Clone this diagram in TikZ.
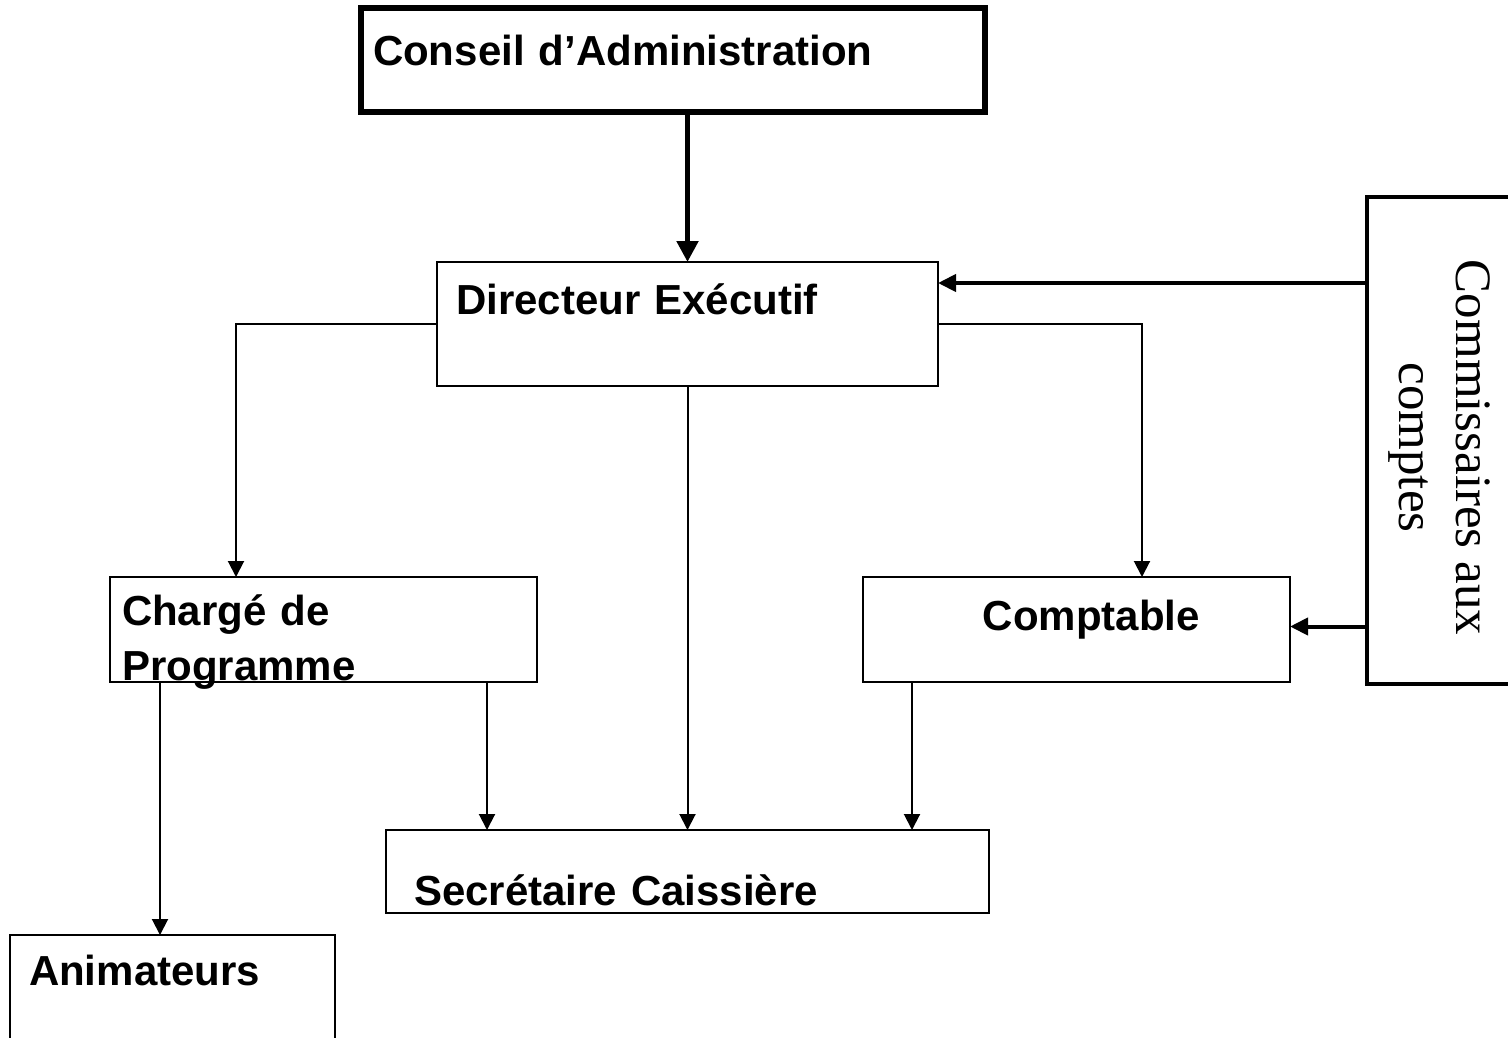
\documentclass[tikz,border=0pt]{standalone}
\usepackage{fontspec}
\usepackage{tikz}
\usetikzlibrary{calc}
\usetikzlibrary{arrows.meta}
\usetikzlibrary{positioning}
\newfontfamily\orgfont{Liberation Sans}
\newfontfamily\audfont{Liberation Serif}
\tikzset{>={Triangle[width=16pt,length=16pt]}}
\tikzset{box/.style={rectangle, draw=black, line width=2pt, anchor=north west, outer sep=0pt, inner ysep=0pt, align=left, font=\orgfont\bfseries\fontsize{42}{55}\selectfont}}
\tikzset{conn/.style={->, draw=black, line width=2pt}}
\tikzset{heavy/.style={->, draw=black, line width=5pt, >={Triangle[width=21pt,length=21pt]}}}
\tikzset{audarr/.style={->, draw=black, line width=4pt, >={Triangle[width=17pt,length=18pt]}}}

\begin{document}
\begin{tikzpicture}[x=1pt, y=-1pt]
\useasboundingbox (0,0) rectangle (1508,1037);
\node [box, line width=6pt, inner xsep=12pt, text width=600pt, text height=57pt, text depth=47pt] (con) at (361,8) {Conseil d’Administration};
\node [box, inner xsep=19pt, text width=463pt, text height=52pt, text depth=72pt] (dir) at (437,262) {Directeur Exécutif};
\node [box, inner xsep=12pt, text width=403pt, text height=48pt, text depth=57pt] (cha) at (110,577) {Chargé de\\Programme};
\node [box, align=right, inner xsep=90pt, text width=247pt, text height=53pt, text depth=52pt] (cpt) at (863,577) {Comptable};
\node [box, inner xsep=28pt, text width=547pt, text height=75pt, text depth=8pt] (sec) at (386,830) {Secrétaire Caissière};
\node [box, inner xsep=19pt, text width=287pt, text height=50pt, text depth=80pt] (ani) at (10,935) {Animateurs};
\node [box, line width=4pt, minimum width=144pt, minimum height=487pt] (aud) at (1367,197) {};
\node [rotate=-90, align=center, font=\audfont\fontsize{51}{57}\selectfont] (audtxt) at ([yshift=-7pt]aud.center) {Commissaires aux\\comptes};
\coordinate (dirin) at ([yshift=-21pt]dir.north east);
\coordinate (cptin) at ([yshift=3pt]cpt.east);
\draw [heavy] (dir.north |- con.south) to (dir.north);
\draw [conn] (dir.west) -| ([xshift=126pt]cha.north west);
\draw [conn] (dir.east) -| ([xshift=279pt]cpt.north west);
\draw [conn] (dir.south) to (sec.north);
\draw [conn] ([xshift=377pt]cha.south west) to ([xshift=101pt]sec.north west);
\draw [conn] ([xshift=50pt]cha.south west) to ([xshift=150pt]ani.north west);
\draw [conn] ([xshift=49pt]cpt.south west) to ([xshift=526pt]sec.north west);
\draw [audarr] (aud.west |- dirin) to (dirin);
\draw [audarr] (aud.west |- cptin) to (cptin);
\end{tikzpicture}
\end{document}
